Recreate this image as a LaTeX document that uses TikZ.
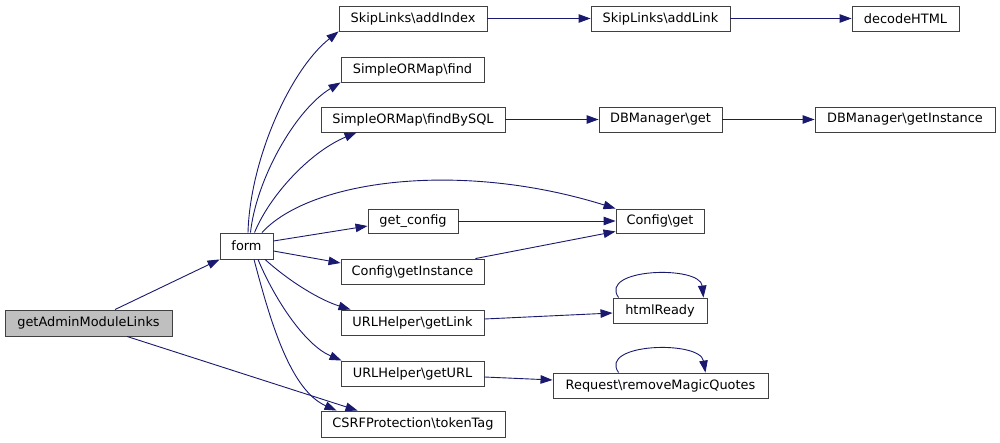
\documentclass[tikz,border=0pt]{standalone}
\usepackage{fontspec}
\setmainfont{DejaVu Sans}
\usetikzlibrary{arrows.meta}
\definecolor{edgeblue}{HTML}{191970}
\definecolor{boxgray}{HTML}{404040}
\definecolor{rootfill}{HTML}{BFBFBF}
\begin{document}
\begin{tikzpicture}[x=1pt,y=-1pt,
  fn/.style={draw=boxgray, line width=0.9pt, fill=white, inner sep=0pt,
    minimum height=25pt, font=\fontsize{12.9}{15}\selectfont},
  root/.style={fn, fill=rootfill},
  call/.style={draw=edgeblue, line width=0.9pt, -{Triangle[length=12pt,width=8.5pt]}}]
\useasboundingbox[fill=white] (0,0) rectangle (1000,443);

\node[root, minimum width=167pt, minimum height=26pt] (gaml) at (88.5,323) {getAdminModuleLinks};
\node[fn, minimum width=53pt, minimum height=26pt] (form) at (246.5,246) {form};
\node[fn, minimum width=148pt] (addIndex) at (413,18.5) {SkipLinks\textbackslash addIndex};
\node[fn, minimum width=139pt] (addLink) at (660.5,18.5) {SkipLinks\textbackslash addLink};
\node[fn, minimum width=107pt] (decode) at (905.5,18.5) {decodeHTML};
\node[fn, minimum width=143pt] (find) at (412.5,69.5) {SimpleORMap\textbackslash find};
\node[fn, minimum width=184pt] (findBySQL) at (413,119.5) {SimpleORMap\textbackslash findBySQL};
\node[fn, minimum width=123pt] (dbget) at (660.5,119.5) {DBManager\textbackslash get};
\node[fn, minimum width=180pt] (dbinst) at (905,119.5) {DBManager\textbackslash getInstance};
\node[fn, minimum width=90pt, minimum height=24pt] (getconfig) at (413,221) {get\_config};
\node[fn, minimum width=88pt, minimum height=24pt] (cfgget) at (660,221) {Config\textbackslash get};
\node[fn, minimum width=143pt] (cfginst) at (412.5,271.5) {Config\textbackslash getInstance};
\node[fn, minimum width=94pt] (html) at (660,310.5) {htmlReady};
\node[fn, minimum width=143pt] (getlink) at (412.5,322.5) {URLHelper\textbackslash getLink};
\node[fn, minimum width=143pt] (geturl) at (412.5,373.5) {URLHelper\textbackslash getURL};
\node[fn, minimum width=215pt] (rmq) at (660.5,385.5) {Request\textbackslash removeMagicQuotes};
\node[fn, minimum width=184pt, minimum height=26pt] (token) at (413,424) {CSRFProtection\textbackslash tokenTag};

% root
\draw[call] ([xshift=26.5pt]gaml.north) -- (form.south west);
\draw[call] ([xshift=38.5pt]gaml.south) -- ([xshift=37pt]token.north west);

% from form, upward
\draw[call] ([xshift=1.5pt]form.north) .. controls (250,160) and (290,70) .. (addIndex.south west);
\draw[call] ([xshift=4pt]form.north) .. controls (256,180) and (295,110) .. (find.south west);
\draw[call] ([xshift=8pt]form.north) .. controls (270,195) and (310,152) .. ([xshift=36pt]findBySQL.south west);
\draw[call] ([xshift=15.5pt]form.north) .. controls (310,180) and (460,160) .. (cfgget.north west);
\draw[call] ([yshift=5pt]form.east) -- ([yshift=-5pt]getconfig.west);
\draw[call] ([yshift=-5pt]form.east) -- ([yshift=8.5pt]cfginst.west);
% from form, downward
\draw[call] ([xshift=18.5pt]form.south) .. controls (290,282) and (320,300) .. ([xshift=10pt]getlink.north west);
\draw[call] ([xshift=11.5pt]form.south) .. controls (275,300) and (305,345) .. ([xshift=1pt]geturl.north west);
\draw[call] ([xshift=7.5pt]form.south) .. controls (270,320) and (290,390) .. ([xshift=16pt]token.north west);

% second level
\draw[call] (addIndex.east) -- (addLink.west);
\draw[call] (addLink.east) -- (decode.west);
\draw[call] (findBySQL.east) -- (dbget.west);
\draw[call] (dbget.east) -- (dbinst.west);
\draw[call] (getconfig.east) -- (cfgget.west);
\draw[call] ([xshift=-9pt]cfginst.north east) -- ([yshift=2pt]cfgget.south west);
\draw[call] ([yshift=3.5pt]getlink.east) -- ([yshift=-2.5pt]html.west);
\draw[call] ([yshift=-3.5pt]geturl.east) -- ([yshift=5.5pt]rmq.west);

% self loops
\draw[call] ([xshift=6pt]html.north west) .. controls (598,268) and (700,265) .. ([xshift=-4pt]html.north east);
\draw[call] ([xshift=66pt]rmq.north west) .. controls (598,343) and (700,340) .. ([xshift=-63pt]rmq.north east);
\end{tikzpicture}
\end{document}
